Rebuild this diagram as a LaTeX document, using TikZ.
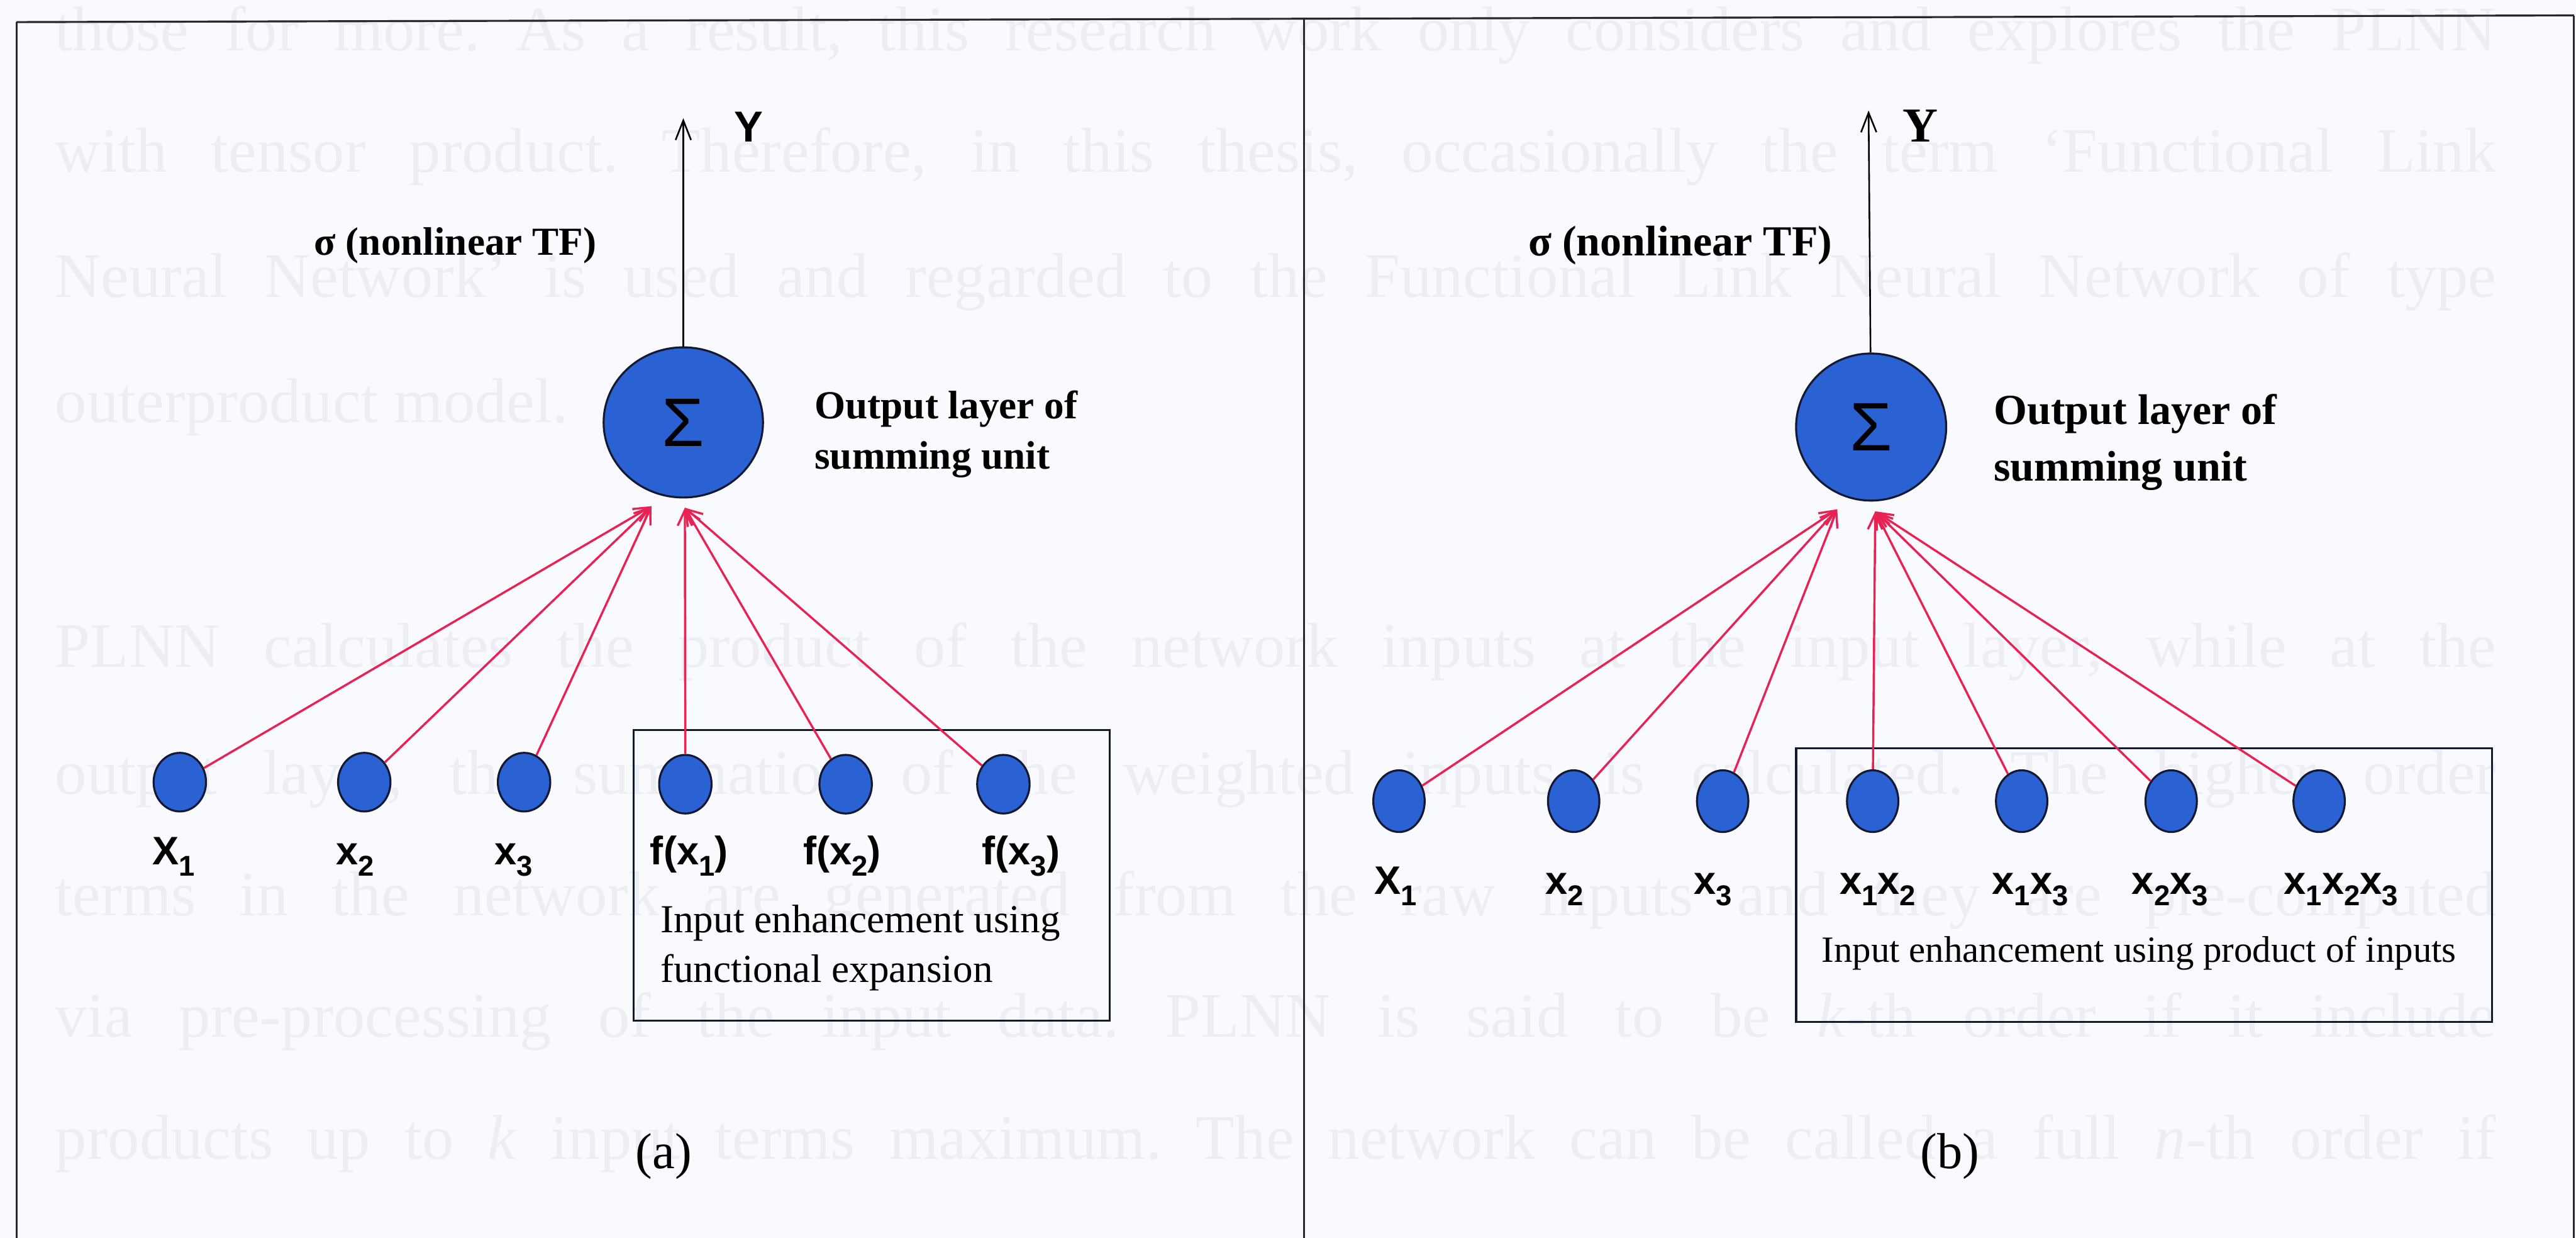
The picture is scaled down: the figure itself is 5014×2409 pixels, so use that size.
\documentclass[tikz,border=0pt]{standalone}
\usepackage{fontspec}
\usepackage{graphicx}
\setmainfont{Liberation Serif}
\setsansfont{Liberation Sans}
\usetikzlibrary{arrows.meta,shapes.geometric}

\definecolor{paper}{RGB}{249,250,253}
\definecolor{ghost}{RGB}{236,238,244}
\definecolor{unitblue}{RGB}{42,98,212}
\definecolor{unitedge}{RGB}{20,24,48}
\definecolor{linkred}{RGB}{232,34,84}
\definecolor{framegray}{RGB}{40,40,48}

% lowered, reduced index digit used in the input labels
\newcommand{\subidx}[1]{\raisebox{-0.28em}{\scalebox{0.72}{#1}}}

\begin{document}
\frenchspacing
\begin{tikzpicture}[x=0.01cm,y=-0.01cm,
  unit/.style={ellipse, draw=unitedge, line width=1.1pt, fill=unitblue, inner sep=0pt},
  inunit/.style={unit, minimum width=1.02cm, minimum height=1.14cm},
  sumunit/.style={unit, font=\sffamily\fontsize{38}{38}\selectfont},
  link/.style={draw=linkred, line width=1.2pt, -{Straight Barb[length=0.3cm,width=0.28cm]}},
  outlink/.style={draw=black, line width=0.9pt, -{Straight Barb[length=0.38cm,width=0.3cm]}},
  lbl/.style={font=\sffamily\bfseries\fontsize{22}{26}\selectfont, anchor=base west, inner sep=0pt},
  capA/.style={font=\bfseries\fontsize{22}{28}\selectfont, anchor=base west, inner sep=0pt},
  capB/.style={font=\bfseries\fontsize{23.7}{30}\selectfont, anchor=base west, inner sep=0pt},
  boxtextA/.style={font=\fontsize{22}{27}\selectfont, anchor=base west, inner sep=0pt},
  boxtextB/.style={font=\fontsize{20.5}{25}\selectfont, anchor=base west, inner sep=0pt},
  tag/.style={font=\fontsize{28}{30}\selectfont, inner sep=0pt},
  groupbox/.style={draw=unitedge, line width=1.1pt},
  frameline/.style={draw=framegray, line width=1.1pt},
  ghosttext/.style={font=\fontsize{35}{40}\selectfont, text=ghost, anchor=base west, inner sep=0pt}]

\useasboundingbox (0,0) rectangle (5014,2409);
\fill[paper] (0,0) rectangle (5014,2409);

% printed page text behind the figure
\node[ghosttext] (g1) at (107,98)   {\makebox[47.48cm][s]{those for more. As a result, this research work only considers and explores the PLNN}};
\node[ghosttext] (g2) at (107,335)  {\makebox[47.48cm][s]{with tensor product. Therefore, in this thesis, occasionally the term ‘Functional Link}};
\node[ghosttext] (g3) at (107,578)  {\makebox[47.48cm][s]{Neural Network’ is used and regarded to the Functional Link Neural Network of type}};
\node[ghosttext] (g4) at (107,822)  {outerproduct model.};
\node[ghosttext] (g5) at (107,1298) {\makebox[47.48cm][s]{PLNN calculates the product of the network inputs at the input layer, while at the}};
\node[ghosttext] (g6) at (107,1545) {\makebox[47.48cm][s]{output layer, the summation of the weighted inputs is calculated. The higher order}};
\node[ghosttext] (g7) at (107,1782) {\makebox[47.48cm][s]{terms in the network are generated from the raw inputs and they are pre-computed}};
\node[ghosttext] (g8) at (107,2018) {\makebox[47.48cm][s]{via pre-processing of the input data. PLNN is said to be \textit{k}-th order if it include}};
\node[ghosttext] (g9) at (107,2255) {\makebox[47.48cm][s]{products up to \textit{k} input terms maximum. The network can be called a full \textit{n}-th order if}};

% panel frame
\draw[frameline] (32,43) -- (5010,30);
\draw[frameline] (32,43) -- (32,2409);
\draw[frameline] (2538,36.5) -- (2538,2409);
\draw[frameline] (5010,30) -- (5010,2409);

% ---------------- (a) functional expansion ----------------
\draw[groupbox] (1233,1421) rectangle (2160,1986);

\node[sumunit, minimum width=3.1cm, minimum height=2.92cm] (sa) at (1330,822) {Σ};
\coordinate (ya) at (1330,230);
\draw[outlink] (sa) -- (ya);
\node[font=\sffamily\bfseries\fontsize{24}{24}\selectfont, anchor=base west, inner sep=0pt] (yla) at (1428,276) {Y};
\node[capA] (tfa) at (611,496) {σ (nonlinear TF)};
\node[capA] (oa1) at (1585,815) {Output layer of};
\node[capA] (oa2) at (1585,912) {summing unit};

\node[inunit] (a1) at (350,1522) {};
\node[inunit] (a2) at (709,1522) {};
\node[inunit] (a3) at (1020,1522) {};
\node[inunit] (a4) at (1334,1526) {};
\node[inunit] (a5) at (1646,1526) {};
\node[inunit] (a6) at (1953,1526) {};

\coordinate (tal) at (1268,985);
\coordinate (tar) at (1333,988);
\draw[link] (a1) -- (tal);
\draw[link] (a2) -- (tal);
\draw[link] (a3) -- (tal);
\draw[link] (a4) -- (tar);
\draw[link] (a5) -- (tar);
\draw[link] (a6) -- (tar);

\node[lbl] (la1) at (296,1683)  {X\subidx{1}};
\node[lbl] (la2) at (653,1683)  {x\subidx{2}};
\node[lbl] (la3) at (962,1683)  {x\subidx{3}};
\node[lbl] (la4) at (1265,1683) {f(x\subidx{1})};
\node[lbl] (la5) at (1563,1683) {f(x\subidx{2})};
\node[lbl] (la6) at (1911,1683) {f(x\subidx{3})};

\node[boxtextA] (ea1) at (1285,1815) {Input enhancement using};
\node[boxtextA] (ea2) at (1285,1912) {functional expansion};

\node[tag] (capa) at (1292,2250) {(a)};

% ---------------- (b) product of inputs ----------------
\draw[groupbox] (3496,1456) rectangle (4851,1989);

\node[sumunit, minimum width=2.92cm, minimum height=2.86cm] (sb) at (3642,831) {Σ};
\coordinate (yb) at (3637,215);
\draw[outlink] (sb) -- (yb);
\node[font=\bfseries\fontsize{27}{27}\selectfont, anchor=base west, inner sep=0pt] (ylb) at (3703,276) {Y};
\node[capB] (tfb) at (2974,498) {σ (nonlinear TF)};
\node[capB] (ob1) at (3880,826) {Output layer of};
\node[capB] (ob2) at (3880,936) {summing unit};

\node[inunit, minimum width=1.0cm, minimum height=1.2cm] (b1) at (2723,1559) {};
\node[inunit, minimum width=1.0cm, minimum height=1.2cm] (b2) at (3063,1559) {};
\node[inunit, minimum width=1.0cm, minimum height=1.2cm] (b3) at (3353,1559) {};
\node[inunit, minimum width=1.0cm, minimum height=1.2cm] (b4) at (3645,1559) {};
\node[inunit, minimum width=1.0cm, minimum height=1.2cm] (b5) at (3935,1559) {};
\node[inunit, minimum width=1.0cm, minimum height=1.2cm] (b6) at (4226,1559) {};
\node[inunit, minimum width=1.0cm, minimum height=1.2cm] (b7) at (4514,1559) {};

\coordinate (tbl) at (3576,991);
\coordinate (tbr) at (3650,995);
\draw[link] (b1) -- (tbl);
\draw[link] (b2) -- (tbl);
\draw[link] (b3) -- (tbl);
\draw[link] (b4) -- (tbr);
\draw[link] (b5) -- (tbr);
\draw[link] (b6) -- (tbr);
\draw[link] (b7) -- (tbr);

\node[lbl] (lb1) at (2674,1740) {X\subidx{1}};
\node[lbl] (lb2) at (3007,1740) {x\subidx{2}};
\node[lbl] (lb3) at (3296,1740) {x\subidx{3}};
\node[lbl] (lb4) at (3580,1740) {x\subidx{1}x\subidx{2}};
\node[lbl] (lb5) at (3877,1740) {x\subidx{1}x\subidx{3}};
\node[lbl] (lb6) at (4149,1740) {x\subidx{2}x\subidx{3}};
\node[lbl] (lb7) at (4445,1740) {x\subidx{1}x\subidx{2}x\subidx{3}};

\node[boxtextB] (eb1) at (3545,1872) {Input enhancement using product of inputs};

\node[tag] (capb) at (3795,2250) {(b)};
\end{tikzpicture}
\end{document}
